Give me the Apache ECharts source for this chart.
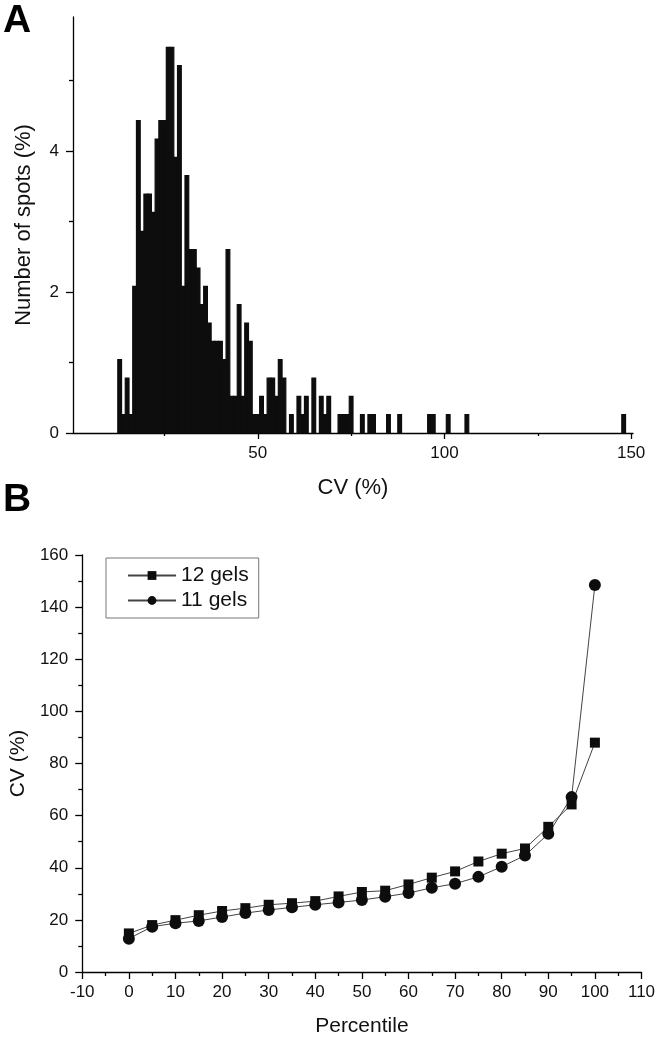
<!DOCTYPE html>
<html>
<head>
<meta charset="utf-8">
<script src="https://cdn.jsdelivr.net/npm/echarts@6/dist/echarts.min.js"></script>
<style>
html,body{margin:0;padding:0;background:#fff;}
#c{width:660px;height:1038px;}
</style>
</head>
<body>
<div id="c"></div>
<script>
// Panel A: histogram of CV (%), bin centres and % of spots
const histCV  = [13,14,15,16,17,18,19,20,21,22,23,24,25,26,27,28,29,30,31,32,33,34,35,36,37,38,39,40,41,42,43,44,45,46,47,48,49,50,51,52,53,54,55,56,57,59,61,62,63,65,67,68,69,72,73,74,75,78,80,81,85,88,96,97,101,106,148];
const histPct = [1.04,0.26,0.78,0.26,2.08,4.43,2.86,3.39,3.39,3.13,4.17,4.43,4.43,5.47,5.47,3.91,5.21,2.08,3.65,2.60,2.60,2.34,1.82,2.08,1.56,1.30,1.30,1.30,1.04,2.60,0.52,0.52,1.82,0.52,1.56,1.30,0.26,0.26,0.52,0.26,0.78,0.78,0.52,1.04,0.78,0.26,0.52,0.26,0.52,0.78,0.52,0.26,0.52,0.26,0.26,0.26,0.52,0.26,0.26,0.26,0.26,0.26,0.26,0.26,0.26,0.26,0.26];
const histXLabels = [50,100,150];
const histXMinor  = [25,75,125];
const histYLabels = [0,2,4];
const histYMinor  = [1,3,5];

// Panel B: CV percentiles
const percentiles = [0,5,10,15,20,25,30,35,40,45,50,55,60,65,70,75,80,85,90,95,100];
const cv12 = [14.8,18.0,19.9,21.8,23.4,24.5,25.8,26.4,27.2,29.0,30.7,31.2,33.6,36.2,38.6,42.4,45.4,47.4,55.7,64.3,88.0];
const cv11 = [12.8,17.4,18.7,19.6,21.1,22.6,23.8,24.8,25.8,26.7,27.6,28.9,30.3,32.3,33.9,36.5,40.4,44.7,53.0,67.1,148.5];

const FONT = 'Liberation Sans, Arial, sans-serif';
const histData = histCV.map((c,i)=>[c, histPct[i]]);

const chart = echarts.init(document.getElementById('c'), null, {renderer:'canvas'});
const axisLineStyle = {color:'#000', width:1.3};

chart.setOption({
  animation:false,
  backgroundColor:'#fff',
  textStyle:{fontFamily:FONT},
  graphic:[
    {type:'text', left:3, top:2, style:{text:'A', font:'bold 39px '+FONT, fill:'#000'}},
    {type:'text', left:3, top:481, style:{text:'B', font:'bold 39px '+FONT, fill:'#000'}}
  ],
  grid:[
    {left:73, top:17, right:27, bottom:605, containLabel:false},
    {left:82, top:555, right:18.5, bottom:65.3, containLabel:false}
  ],
  legend:{
    data:['12 gels','11 gels'],
    orient:'vertical',
    left:106, top:558,
    padding:[7,10,7,21],
    itemGap:4,
    itemWidth:48, itemHeight:11,
    borderColor:'#777', borderWidth:1,
    textStyle:{fontFamily:FONT, fontSize:21, color:'#111'}
  },
  xAxis:[
    {gridIndex:0, type:'value', position:'bottom', min:0.5, max:150.5,
     name:'CV (%)', nameLocation:'middle', nameGap:44,
     nameTextStyle:{fontFamily:FONT, fontSize:22, color:'#111'},
     axisLine:{onZero:false, lineStyle:axisLineStyle},
     axisTick:{show:true, inside:false, length:6, customValues:histXLabels, lineStyle:axisLineStyle},
     axisLabel:{customValues:histXLabels, margin:12, fontFamily:FONT, fontSize:17, color:'#111'},
     splitLine:{show:false}},
    {gridIndex:0, type:'value', position:'bottom', min:0.5, max:150.5,
     axisLine:{show:false, onZero:false},
     axisTick:{show:true, length:3, customValues:histXMinor, lineStyle:axisLineStyle},
     axisLabel:{show:false}, splitLine:{show:false}},
    {gridIndex:1, type:'value', position:'bottom', min:-10, max:110, interval:10,
     name:'Percentile', nameLocation:'middle', nameGap:44,
     nameTextStyle:{fontFamily:FONT, fontSize:21, color:'#111'},
     axisLine:{onZero:false, lineStyle:axisLineStyle},
     axisTick:{length:7, lineStyle:axisLineStyle},
     minorTick:{show:true, splitNumber:2, length:4, lineStyle:axisLineStyle},
     axisLabel:{margin:12, fontFamily:FONT, fontSize:17, color:'#111', showMinLabel:true, showMaxLabel:true},
     splitLine:{show:false}}
  ],
  yAxis:[
    {gridIndex:0, type:'value', position:'left', min:0, max:5.9,
     name:'Number of spots (%)', nameLocation:'middle', nameGap:38,
     nameTextStyle:{fontFamily:FONT, fontSize:22, color:'#111'},
     axisLine:{show:true, onZero:false, lineStyle:axisLineStyle},
     axisTick:{show:true, length:7, customValues:histYLabels, lineStyle:axisLineStyle},
     axisLabel:{customValues:histYLabels, margin:14, fontFamily:FONT, fontSize:17, color:'#111'},
     splitLine:{show:false}},
    {gridIndex:0, type:'value', position:'left', offset:0, min:0, max:5.9,
     axisLine:{show:false, onZero:false},
     axisTick:{show:true, length:4, customValues:histYMinor, lineStyle:axisLineStyle},
     axisLabel:{show:false}, splitLine:{show:false}},
    {gridIndex:1, type:'value', position:'left', min:0, max:160, interval:20,
     name:'CV (%)', nameLocation:'middle', nameGap:44,
     nameTextStyle:{fontFamily:FONT, fontSize:21, color:'#111'},
     axisLine:{show:true, onZero:false, lineStyle:axisLineStyle},
     axisTick:{show:true, length:7, lineStyle:axisLineStyle},
     minorTick:{show:true, splitNumber:2, length:4, lineStyle:axisLineStyle},
     axisLabel:{margin:14, fontFamily:FONT, fontSize:17, color:'#111'},
     splitLine:{show:false}}
  ],
  series:[
    {type:'custom', xAxisIndex:0, yAxisIndex:0, data:histData,
     renderItem:function(params, api){
       const x = api.value(0), y = api.value(1);
       const p0 = api.coord([x-0.5, y]);
       const p1 = api.coord([x+0.5, 0]);
       return {type:'rect', shape:{x:p0[0], y:p0[1], width:p1[0]-p0[0], height:p1[1]-p0[1]},
               style:{fill:'#0d0d0d', stroke:'#0d0d0d', lineWidth:1.2}};
     }},
    {name:'12 gels', type:'line', xAxisIndex:2, yAxisIndex:2,
     data:percentiles.map((p,i)=>[p, cv12[i]]),
     symbol:'rect', symbolSize:10,
     lineStyle:{color:'#444', width:1},
     itemStyle:{color:'#0d0d0d'}},
    {name:'11 gels', type:'line', xAxisIndex:2, yAxisIndex:2,
     data:percentiles.map((p,i)=>[p, cv11[i]]),
     symbol:'circle', symbolSize:12,
     lineStyle:{color:'#444', width:1},
     itemStyle:{color:'#0d0d0d'}}
  ]
});
</script>
</body>
</html>
